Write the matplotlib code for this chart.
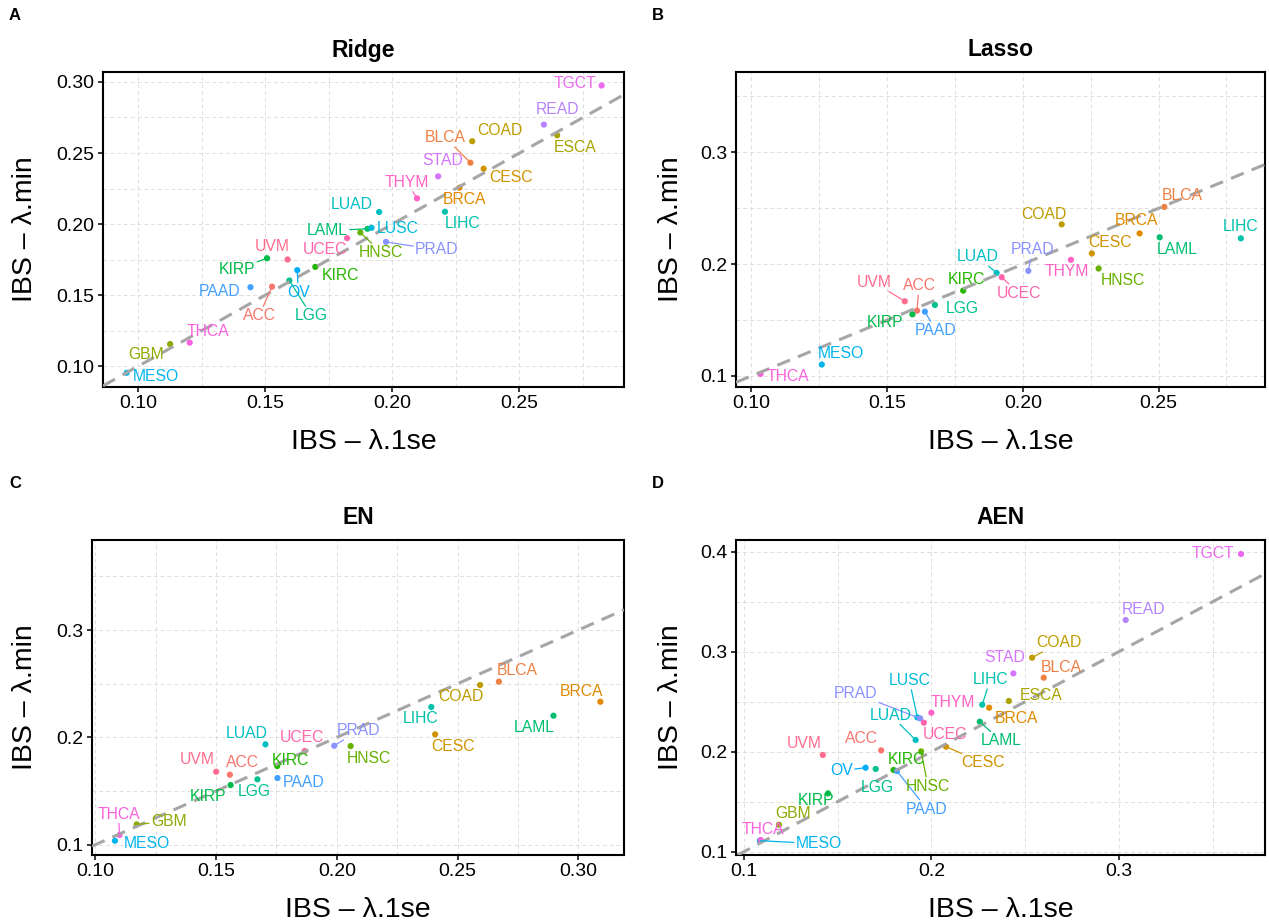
import numpy as np
import matplotlib
matplotlib.use("Agg")
import matplotlib.pyplot as plt
from matplotlib.ticker import FormatStrFormatter, FixedLocator

plt.rcParams['font.family'] = ['Liberation Sans', 'DejaVu Sans']

# all cancer types, alphabetical -> ggplot hue palette order
cancers = ['ACC', 'BLCA', 'BRCA', 'CESC', 'COAD', 'ESCA', 'GBM', 'HNSC', 'KIRC', 'KIRP',
           'LAML', 'LGG', 'LIHC', 'LUAD', 'LUSC', 'MESO', 'OV', 'PAAD', 'PRAD', 'READ',
           'STAD', 'TGCT', 'THCA', 'THYM', 'UCEC', 'UVM']

# Ridge
ridge_names = ['ACC', 'BLCA', 'BRCA', 'CESC', 'COAD', 'ESCA', 'GBM', 'HNSC', 'KIRC', 'KIRP',
               'LAML', 'LGG', 'LIHC', 'LUAD', 'LUSC', 'MESO', 'OV', 'PAAD', 'PRAD', 'READ',
               'STAD', 'TGCT', 'THCA', 'THYM', 'UCEC', 'UVM']
ridge_1se = [0.1527, 0.2307, 0.2264, 0.2359, 0.2314, 0.2648, 0.1126, 0.1874, 0.1697, 0.1507,
             0.1902, 0.1595, 0.2207, 0.1948, 0.1918, 0.0955, 0.1626, 0.1442, 0.1975, 0.2596,
             0.2180, 0.2823, 0.1203, 0.2097, 0.1822, 0.1588]
ridge_min = [0.1560, 0.2432, 0.2256, 0.2390, 0.2583, 0.2625, 0.1156, 0.1941, 0.1699, 0.1760,
             0.1967, 0.1603, 0.2087, 0.2085, 0.1974, 0.0954, 0.1676, 0.1556, 0.1875, 0.2700,
             0.2336, 0.2975, 0.1166, 0.2181, 0.1901, 0.1751]

# Lasso
lasso_names = ['ACC', 'BLCA', 'BRCA', 'CESC', 'COAD', 'HNSC', 'KIRC', 'KIRP', 'LAML', 'LGG',
               'LIHC', 'LUAD', 'MESO', 'PAAD', 'PRAD', 'THCA', 'THYM', 'UCEC', 'UVM']
lasso_1se = [0.1610, 0.2521, 0.2430, 0.2254, 0.2143, 0.2279, 0.1780, 0.1593, 0.2504, 0.1676,
             0.2803, 0.1903, 0.1259, 0.1639, 0.2020, 0.1033, 0.2177, 0.1922, 0.1565]
lasso_min = [0.1584, 0.2512, 0.2275, 0.2096, 0.2356, 0.1961, 0.1763, 0.1551, 0.2240, 0.1635,
             0.2231, 0.1922, 0.1102, 0.1575, 0.1940, 0.1018, 0.2039, 0.1883, 0.1668]

# EN
en_names = ['ACC', 'BLCA', 'BRCA', 'CESC', 'COAD', 'GBM', 'HNSC', 'KIRC', 'KIRP', 'LAML',
            'LGG', 'LIHC', 'LUAD', 'MESO', 'PAAD', 'PRAD', 'THCA', 'UCEC', 'UVM']
en_1se = [0.1557, 0.2671, 0.3091, 0.2407, 0.2593, 0.1171, 0.2057, 0.1753, 0.1560, 0.2897,
          0.1671, 0.2391, 0.1704, 0.1081, 0.1754, 0.1989, 0.1100, 0.1867, 0.1500]
en_min = [0.1652, 0.2519, 0.2332, 0.2028, 0.2488, 0.1189, 0.1919, 0.1733, 0.1556, 0.2202,
          0.1609, 0.2283, 0.1935, 0.1037, 0.1621, 0.1922, 0.1090, 0.1873, 0.1680]

# AEN
aen_names = ['ACC', 'BLCA', 'BRCA', 'CESC', 'COAD', 'ESCA', 'GBM', 'HNSC', 'KIRC', 'KIRP',
             'LAML', 'LGG', 'LIHC', 'LUAD', 'LUSC', 'MESO', 'OV', 'PAAD', 'PRAD', 'READ',
             'STAD', 'TGCT', 'THCA', 'THYM', 'UCEC', 'UVM']
aen_1se = [0.1732, 0.2599, 0.2308, 0.2078, 0.2537, 0.2413, 0.1187, 0.1945, 0.1798, 0.1449,
           0.2258, 0.1703, 0.2271, 0.1916, 0.1925, 0.1085, 0.1649, 0.1816, 0.1940, 0.3036,
           0.2437, 0.3651, 0.1090, 0.2000, 0.1960, 0.1421]
aen_min = [0.2013, 0.2740, 0.2440, 0.2050, 0.2940, 0.2507, 0.1270, 0.2003, 0.1817, 0.1583,
           0.2300, 0.1827, 0.2470, 0.2117, 0.2343, 0.1110, 0.1840, 0.1807, 0.2333, 0.3317,
           0.2783, 0.3977, 0.1117, 0.2390, 0.2290, 0.1967]

# label offsets (pixels, label centre relative to point) -- mimic ggrepel layout
ridge_off = {'TGCT': (-27, 2), 'READ': (14, 15), 'ESCA': (18, -12), 'COAD': (28, 11),
             'BLCA': (-25, 25), 'CESC': (27, -9), 'STAD': (5, 16), 'BRCA': (5, -12),
             'THYM': (-10, 16), 'LUAD': (-27, 8), 'LIHC': (18, -12), 'LUSC': (26, -1),
             'LAML': (-40, -2), 'HNSC': (21, -20), 'PRAD': (51, -8), 'UCEC': (-22, -11),
             'UVM': (-15, 13), 'KIRP': (-30, -11), 'KIRC': (25, -9), 'OV': (1, -22),
             'LGG': (22, -35), 'PAAD': (-31, -4), 'ACC': (-13, -29), 'THCA': (18, 11),
             'GBM': (-24, -10), 'MESO': (29, -4)}
lasso_off = {'BLCA': (18, 11), 'LIHC': (0, 12), 'LAML': (18, -12), 'BRCA': (-3, 13),
             'COAD': (-18, 10), 'CESC': (18, 11), 'HNSC': (24, -12), 'THYM': (-4, -12),
             'PRAD': (4, 21), 'LUAD': (-19, 16), 'UCEC': (17, -16), 'KIRC': (3, 11),
             'LGG': (27, -4), 'UVM': (-31, 19), 'ACC': (2, 25), 'PAAD': (11, -19),
             'KIRP': (-27, -8), 'MESO': (19, 11), 'THCA': (28, -3)}
en_off = {'BRCA': (-19, 10), 'LAML': (-19, -12), 'BLCA': (18, 11), 'COAD': (-19, -12),
          'LIHC': (-11, -12), 'CESC': (18, -12), 'PRAD': (24, 15), 'HNSC': (18, -12),
          'UCEC': (-3, 14), 'LUAD': (-19, 11), 'KIRC': (13, 6), 'PAAD': (26, -4),
          'LGG': (-3, -12), 'UVM': (-19, 12), 'ACC': (13, 12), 'KIRP': (-23, -11),
          'GBM': (32, 3), 'THCA': (-1, 21), 'MESO': (32, -3)}
aen_off = {'TGCT': (-28, 0), 'READ': (18, 11), 'COAD': (27, 15), 'STAD': (-9, 16),
           'BLCA': (18, 10), 'ESCA': (32, 5), 'LIHC': (8, 25), 'BRCA': (27, -11),
           'LAML': (21, -19), 'THYM': (21, 10), 'LUSC': (-8, 37), 'PRAD': (-65, 25),
           'UCEC': (21, -12), 'LUAD': (-25, 25), 'CESC': (37, -16), 'ACC': (-20, 12),
           'KIRC': (13, 10), 'HNSC': (7, -35), 'PAAD': (30, -38), 'LGG': (2, -19),
           'OV': (-24, -3), 'UVM': (-19, 12), 'KIRP': (-12, -7), 'GBM': (14, 11),
           'THCA': (2, 10), 'MESO': (59, -3)}

ridge_seg = {'BLCA', 'THYM', 'LAML', 'HNSC', 'PRAD', 'KIRP', 'OV', 'LGG', 'ACC'}
lasso_seg = {'PRAD', 'LUAD', 'UCEC', 'UVM', 'ACC', 'PAAD'}
en_seg = {'PRAD', 'GBM', 'THCA'}
aen_seg = {'COAD', 'LIHC', 'LAML', 'LUSC', 'PRAD', 'LUAD', 'CESC', 'HNSC', 'PAAD', 'OV', 'MESO'}


def hcl(h, c=100.0, l=65.0):
    # polar Luv -> sRGB, as in R's hcl()
    hr = np.deg2rad(h)
    u, v = c * np.cos(hr), c * np.sin(hr)
    Xn, Yn, Zn = 0.95047, 1.0, 1.08883
    un = 4 * Xn / (Xn + 15 * Yn + 3 * Zn)
    vn = 9 * Yn / (Xn + 15 * Yn + 3 * Zn)
    Y = Yn * ((l + 16) / 116) ** 3
    up = u / (13 * l) + un
    vp = v / (13 * l) + vn
    X = Y * 9 * up / (4 * vp)
    Z = Y * (12 - 3 * up - 20 * vp) / (4 * vp)
    rgb = np.array([3.2404542 * X - 1.5371385 * Y - 0.4985314 * Z,
                    -0.9692660 * X + 1.8760108 * Y + 0.0415560 * Z,
                    0.0556434 * X - 0.2040259 * Y + 1.0572252 * Z])
    rgb = np.where(rgb <= 0.0031308, 12.92 * rgb, 1.055 * np.abs(rgb) ** (1 / 2.4) - 0.055)
    return tuple(np.clip(rgb, 0, 1))


hues = np.linspace(15, 375, len(cancers) + 1)[:-1]
colors = {c: hcl(h) for c, h in zip(cancers, hues)}

W, H = 1269, 924
fig = plt.figure(figsize=(W / 100, H / 100), dpi=100)


def add_box(l, r, t, b):
    return fig.add_axes([l / W, 1 - b / H, (r - l) / W, (b - t) / H])


panels = [
    dict(names=ridge_names, x=ridge_1se, y=ridge_min, off=ridge_off, seg=ridge_seg,
         title='Ridge', letter='A', box=(103, 624, 72, 387),
         xlim=(0.0862, 0.2911), ylim=(0.0854, 0.307),
         xt=[0.10, 0.15, 0.20, 0.25], yt=[0.10, 0.15, 0.20, 0.25, 0.30],
         xm=[0.125, 0.175, 0.225, 0.275], ym=[0.125, 0.175, 0.225, 0.275],
         xf='%.2f', yf='%.2f', ylab_x=25, lx=15, ly=16),
    dict(names=lasso_names, x=lasso_1se, y=lasso_min, off=lasso_off, seg=lasso_seg,
         title='Lasso', letter='B', box=(736, 1265, 72, 387),
         xlim=(0.0943, 0.2892), ylim=(0.0901, 0.3719),
         xt=[0.10, 0.15, 0.20, 0.25], yt=[0.1, 0.2, 0.3],
         xm=[0.125, 0.175, 0.225, 0.275], ym=[0.15, 0.25, 0.35],
         xf='%.2f', yf='%.1f', ylab_x=671, lx=658, ly=16),
    dict(names=en_names, x=en_1se, y=en_min, off=en_off, seg=en_seg,
         title='EN', letter='C', box=(92, 624, 540, 855),
         xlim=(0.0986, 0.3189), ylim=(0.0904, 0.3839),
         xt=[0.10, 0.15, 0.20, 0.25, 0.30], yt=[0.1, 0.2, 0.3],
         xm=[0.125, 0.175, 0.225, 0.275], ym=[0.15, 0.25, 0.35],
         xf='%.2f', yf='%.1f', ylab_x=25, lx=15, ly=484),
    dict(names=aen_names, x=aen_1se, y=aen_min, off=aen_off, seg=aen_seg,
         title='AEN', letter='D', box=(736, 1265, 540, 855),
         xlim=(0.0958, 0.3779), ylim=(0.0967, 0.4117),
         xt=[0.1, 0.2, 0.3], yt=[0.1, 0.2, 0.3, 0.4],
         xm=[0.15, 0.25, 0.35], ym=[0.15, 0.25, 0.35],
         xf='%.1f', yf='%.1f', ylab_x=671, lx=658, ly=484),
]

grid_col = '#DEDEDE'
axes_list = []
for p in panels:
    l, r, t, b = p['box']
    ax = add_box(l, r, t, b)
    ax.set_xlim(*p['xlim'])
    ax.set_ylim(*p['ylim'])
    ax.xaxis.set_major_locator(FixedLocator(p['xt']))
    ax.yaxis.set_major_locator(FixedLocator(p['yt']))
    ax.xaxis.set_minor_locator(FixedLocator(p['xm']))
    ax.yaxis.set_minor_locator(FixedLocator(p['ym']))
    ax.xaxis.set_major_formatter(FormatStrFormatter(p['xf']))
    ax.yaxis.set_major_formatter(FormatStrFormatter(p['yf']))
    ax.grid(True, which='both', color=grid_col, linestyle=(0, (4, 3)), linewidth=0.7)
    ax.set_axisbelow(True)
    ax.tick_params(which='major', direction='out', length=3.5, width=1.1, color='black',
                   labelsize=14, labelcolor='black', pad=2.5)
    ax.tick_params(which='minor', length=0)
    for s in ax.spines.values():
        s.set_linewidth(1.5)
        s.set_color('black')

    cols = [colors[n] for n in p['names']]
    ax.scatter(p['x'], p['y'], s=20, c=cols, edgecolors='none', zorder=3)
    ax.axline((0, 0), slope=1, color='#A6A6A6', linewidth=2.2,
              linestyle=(0, (4.5, 2.8)), zorder=4)

    anns = []
    for n, xv, yv in zip(p['names'], p['x'], p['y']):
        dx, dy = p['off'][n]
        a = ax.annotate(n, (xv, yv), xytext=(dx, dy), textcoords='offset pixels',
                        ha='center', va='center', fontsize=11.3, color=colors[n],
                        zorder=6, annotation_clip=False)
        anns.append((n, xv, yv, a))
    p['anns'] = anns

    cx = (l + r) / 2
    fig.text(cx / W, 1 - 50 / H if t < 100 else 1 - 518 / H, p['title'],
             ha='center', va='center', fontsize=16.5, fontweight='bold')
    fig.text(cx / W, 1 - (b + 55) / H, 'IBS \u2013 \u03bb.1se', ha='center', va='center',
             fontsize=20.5)
    fig.text(p['ylab_x'] / W, 1 - (t + b) / 2 / H, 'IBS \u2013 \u03bb.min', ha='center',
             va='center', rotation=90, fontsize=20.5)
    fig.text(p['lx'] / W, 1 - p['ly'] / H, p['letter'], ha='center', va='center',
             fontsize=12, fontweight='bold')
    axes_list.append(ax)

# ggrepel style segments from point to label box
fig.canvas.draw()
renderer = fig.canvas.get_renderer()
for p, ax in zip(panels, axes_list):
    inv = ax.transData.inverted()
    for n, xv, yv, a in p['anns']:
        if n not in p['seg']:
            continue
        bb = a.get_window_extent(renderer)
        px, py = ax.transData.transform((xv, yv))
        ccx, ccy = (bb.x0 + bb.x1) / 2, (bb.y0 + bb.y1) / 2
        ddx, ddy = ccx - px, ccy - py
        pad = 1.5
        tx = -np.inf
        ty = -np.inf
        if ddx > 0:
            tx = (bb.x0 - pad - px) / ddx
        elif ddx < 0:
            tx = (bb.x1 + pad - px) / ddx
        if ddy > 0:
            ty = (bb.y0 - pad - py) / ddy
        elif ddy < 0:
            ty = (bb.y1 + pad - py) / ddy
        tt = np.clip(max(tx, ty), 0, 1)
        ex, ey = px + tt * ddx, py + tt * ddy
        (x0, y0), (x1, y1) = inv.transform([(px, py), (ex, ey)])
        ax.plot([x0, x1], [y0, y1], color=colors[n], linewidth=0.9, zorder=5,
                solid_capstyle='butt')

fig.savefig('out.png', dpi=100)
